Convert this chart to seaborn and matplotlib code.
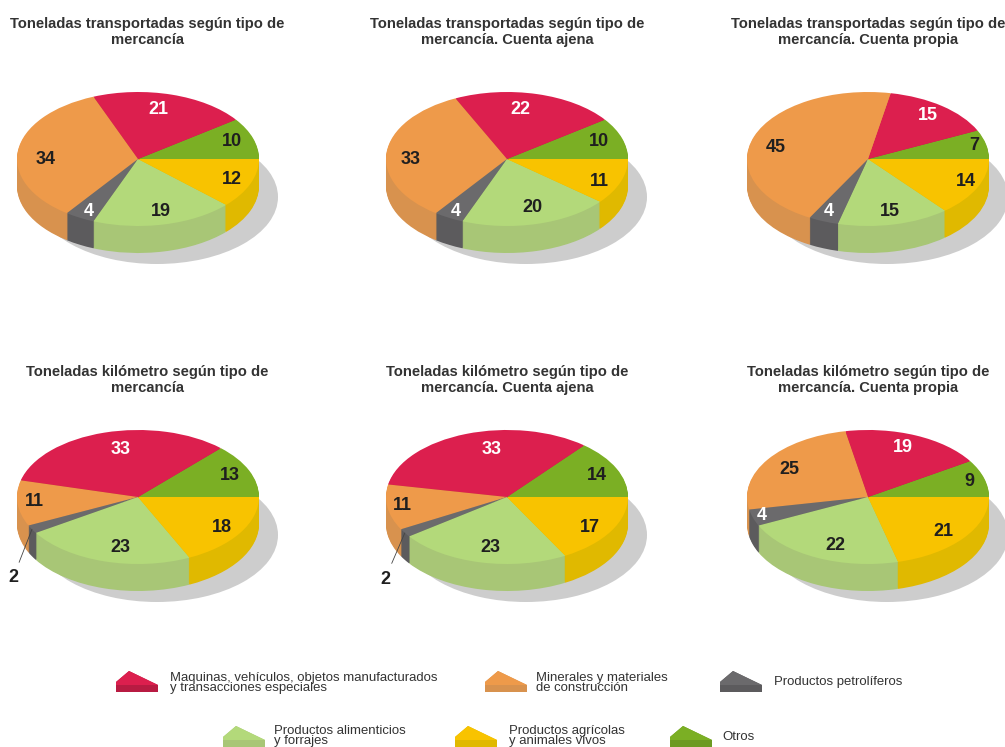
import numpy as np
import seaborn as sns
import matplotlib.pyplot as plt
from matplotlib.patches import Polygon

sns.set_theme(style='white')
plt.rcParams['font.family'] = ['Liberation Sans', 'DejaVu Sans']

W, H = 1005, 747
RX, RY, DEPTH = 121, 67, 27

categories = ['Maquinas, vehículos, objetos manufacturados\ny transacciones especiales',
              'Minerales y materiales\nde construcción',
              'Productos petrolíferos',
              'Productos alimenticios\ny forrajes',
              'Productos agrícolas\ny animales vivos',
              'Otros']

# every pie runs counterclockwise from 3 o'clock: otros, maquinas, minerales, petroleo, alimentos, agricolas
otros = [10, 10, 7, 13, 14, 9]
maquinas = [21, 22, 15, 33, 33, 19]
minerales = [34, 33, 45, 11, 11, 25]
petroleo = [4, 4, 4, 2, 2, 4]
alimentos = [19, 20, 15, 23, 23, 22]
agricolas = [12, 11, 14, 18, 17, 21]

titles = ['Toneladas transportadas según tipo de\nmercancía',
          'Toneladas transportadas según tipo de\nmercancía. Cuenta ajena',
          'Toneladas transportadas según tipo de\nmercancía. Cuenta propia',
          'Toneladas kilómetro según tipo de\nmercancía',
          'Toneladas kilómetro según tipo de\nmercancía. Cuenta ajena',
          'Toneladas kilómetro según tipo de\nmercancía. Cuenta propia']

top_colors = sns.color_palette(['#7BAF24', '#DC1F4E', '#EE9A4A', '#6B6A6C', '#B3D97A', '#F8C300'])
side_colors = sns.color_palette(['#6C9A22', '#B81B42', '#D8924E', '#5C5B5D', '#A8C676', '#E0B900'])
text_colors = ['#1f1f1f', 'white', '#1f1f1f', 'white', '#1f1f1f', '#1f1f1f']

centers = [(138, 159), (507, 159), (868, 159), (138, 497), (507, 497), (868, 497)]
title_x = [147, 507, 868, 147, 507, 868]
title_y = [32, 32, 32, 380, 380, 380]

# where the number of each slice sits, in pixels, same slice order as the values
label_pos = [
    [(232, 142), (158, 110), (46, 159), (89, 212), (161, 212), (232, 180)],
    [(599, 142), (520, 110), (411, 159), (456, 211), (532, 208), (599, 181)],
    [(974, 146), (928, 115), (776, 147), (829, 211), (890, 211), (966, 181)],
    [(230, 475), (121, 449), (34, 502), (13, 578), (120, 547), (222, 527)],
    [(597, 476), (492, 450), (402, 506), (385, 579), (490, 547), (590, 527)],
    [(969, 481), (903, 448), (789, 469), (762, 516), (835, 545), (943, 531)],
]

fig = plt.figure(figsize=(W / 100, H / 100), dpi=100)
bg = fig.add_axes([0, 0, 1, 1], zorder=5)
bg.set_xlim(0, W)
bg.set_ylim(H, 0)
bg.axis('off')

for i, (cx, cy) in enumerate(centers):
    values = [otros[i], maquinas[i], minerales[i], petroleo[i], alimentos[i], agricolas[i]]
    ax = fig.add_axes([(cx - 140) / W, 1 - (cy + 120) / H, 310 / W, 200 / H])

    ax.pie([1], colors=['#CDCDCD'], center=(19 / RX, -38 / RY), wedgeprops={'linewidth': 0})
    for d in range(DEPTH, 0, -1):
        ax.pie(values, colors=side_colors, center=(0, -d / RY), wedgeprops={'linewidth': 0})
    wedges, _ = ax.pie(values, colors=top_colors, wedgeprops={'linewidth': 0})

    ax.set_aspect('auto')
    ax.set_xlim(-140 / RX, 170 / RX)
    ax.set_ylim(-120 / RY, 80 / RY)

    for w, v, c, pos in zip(wedges, values, text_colors, label_pos[i]):
        if v > 3:
            bg.text(pos[0], pos[1], str(v), ha='center', va='center', fontsize=13, fontweight='bold', color=c)
        else:
            # too thin for its number, so it goes outside on a leader line
            a = np.deg2rad((w.theta1 + w.theta2) / 2)
            bg.annotate(str(v), xy=(cx + RX * np.cos(a), cy - RY * np.sin(a)), xytext=pos, textcoords='data',
                        ha='center', va='center', fontsize=13, fontweight='bold', color='#1f1f1f',
                        arrowprops={'arrowstyle': '-', 'lw': 0.6, 'color': '#444444', 'shrinkA': 3, 'shrinkB': 0})

    bg.text(title_x[i], title_y[i], titles[i], ha='center', va='center', fontsize=10.65, fontweight='bold',
            color='#333333', linespacing=1.15)

# legend with small wedge glyphs
glyph_x = [116, 485, 720, 223, 455, 670]
glyph_y = [671, 671, 671, 726, 726, 726]
text_x = [170, 536, 774, 274, 509, 722]
text_y = [683, 683, 682, 736, 736, 737]
order = [1, 2, 3, 4, 5, 0]

for k, (gx, gy) in enumerate(zip(glyph_x, glyph_y)):
    c = order[k]
    bg.add_patch(Polygon([(gx, gy + 21), (gx, gy + 11), (gx + 13, gy), (gx + 42, gy + 14), (gx + 42, gy + 21)],
                         closed=True, fc=side_colors[c], ec='none', clip_on=False))
    bg.add_patch(Polygon([(gx, gy + 14), (gx, gy + 11), (gx + 13, gy), (gx + 42, gy + 14)],
                         closed=True, fc=top_colors[c], ec='none', clip_on=False))
    bg.text(text_x[k], text_y[k], categories[k], ha='left', va='center', fontsize=9.46, color='#333333',
            linespacing=0.82)

fig.savefig('out.png', dpi=100)
